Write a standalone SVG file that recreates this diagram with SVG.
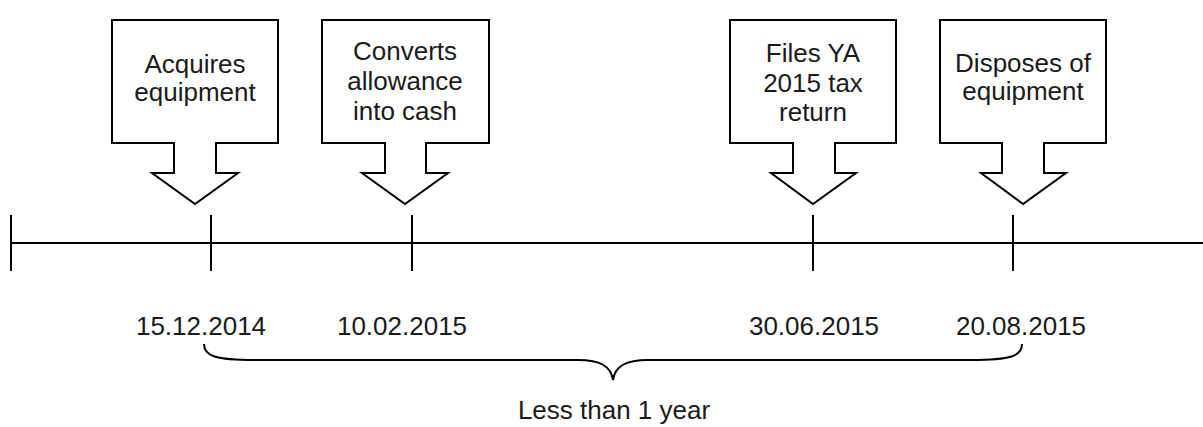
<svg xmlns="http://www.w3.org/2000/svg" width="1203" height="427" viewBox="0 0 1203 427">
<style>
.call{fill:#fff;stroke:#000;stroke-width:2;stroke-linejoin:miter}
.t{font-family:"Liberation Sans",Arial,sans-serif;font-size:26px;fill:#1a1a1a;text-anchor:middle}
.ln{stroke:#000;stroke-width:2;fill:none}
</style>
<rect width="1203" height="427" fill="#fff"/>
<g id="connectors">
<line class="ln" x1="11" y1="243" x2="1203" y2="243"/>
<line class="ln" x1="11" y1="215" x2="11" y2="271"/>
<line class="ln" x1="211" y1="215" x2="211" y2="271"/>
<line class="ln" x1="412" y1="215" x2="412" y2="271"/>
<line class="ln" x1="813" y1="215" x2="813" y2="271"/>
<line class="ln" x1="1013" y1="215" x2="1013" y2="271"/>
<path class="ln" stroke-width="1.8" d="M204,344 C204,356 215,360 255,360 L578,360 C600,360 611,366 613,380 C615,366 626,360 648,360 L971,360 C1011,360 1022,356 1022,344"/>
</g>
<g id="n1">
<path class="call" d="M112,20 H278 V143 H216 V173 H238 L195,204 L152,173 H174 V143 H112 Z"/>
<text class="t" x="195" y="73">Acquires</text>
<text class="t" x="195" y="101">equipment</text>
</g>
<g id="n2">
<path class="call" d="M322,20 H489 V143 H426 V173 H448 L405,204 L362,173 H385 V143 H322 Z"/>
<text class="t" x="405" y="60">Converts</text>
<text class="t" x="405" y="90">allowance</text>
<text class="t" x="405" y="120">into cash</text>
</g>
<g id="n3">
<path class="call" d="M730,20 H896 V143 H835 V173 H856 L813,204 L771,173 H793 V143 H730 Z"/>
<text class="t" x="813" y="62">Files YA</text>
<text class="t" x="813" y="92">2015 tax</text>
<text class="t" x="813" y="121">return</text>
</g>
<g id="n4">
<path class="call" d="M940,20 H1106 V143 H1044 V173 H1066 L1023,204 L981,173 H1002 V143 H940 Z"/>
<text class="t" x="1023" y="72">Disposes of</text>
<text class="t" x="1023" y="100">equipment</text>
</g>
<g id="dates">
<text class="t" x="201" y="335">15.12.2014</text>
<text class="t" x="402" y="335">10.02.2015</text>
<text class="t" x="814" y="335">30.06.2015</text>
<text class="t" x="1021" y="335">20.08.2015</text>
</g>
<g id="span">
<text class="t" x="614" y="419">Less than 1 year</text>
</g>
</svg>
